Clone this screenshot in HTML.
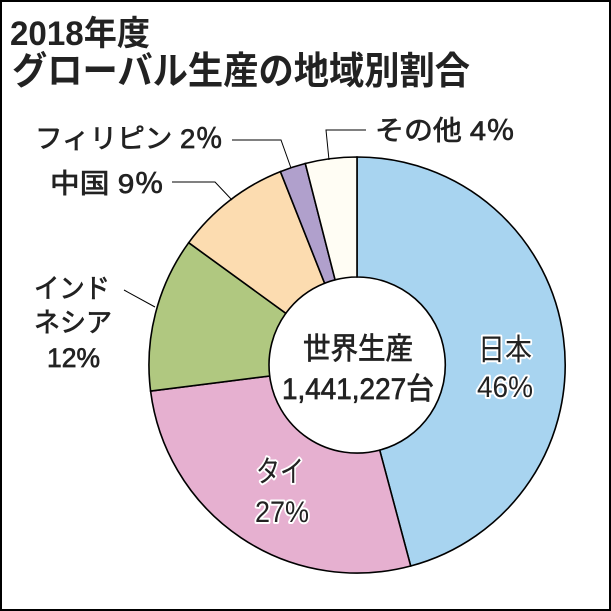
<!DOCTYPE html>
<html><head><meta charset="utf-8"><style>
html,body{margin:0;padding:0;background:#fff;}
svg{display:block;}
text{font-family:"Liberation Sans","Noto Sans CJK JP",sans-serif;}
</style></head><body>
<svg width="611" height="611" viewBox="0 0 611 611" xmlns="http://www.w3.org/2000/svg">
<rect x="1" y="1" width="609" height="609" fill="#fff" stroke="#000" stroke-width="2"/>
<text x="10" y="45" font-size="34" font-weight="bold" fill="#222" textLength="140" lengthAdjust="spacingAndGlyphs">2018年度</text>
<text x="12" y="84" font-size="38" font-weight="bold" fill="#222" textLength="458" lengthAdjust="spacingAndGlyphs">グローバル生産の地域別割合</text>
<g stroke="#000" stroke-width="1.6">
<path d="M357,157 A208,208 0 0 1 410.7,566.0 L379.7,450.1 A88,88 0 0 0 357,277 Z" fill="#a8d4f0"/>
<path d="M410.7,566.0 A208,208 0 0 1 150.6,391.1 L269.7,376.0 A88,88 0 0 0 379.7,450.1 Z" fill="#e6b0d0"/>
<path d="M150.6,391.1 A208,208 0 0 1 188.7,242.7 L285.8,313.3 A88,88 0 0 0 269.7,376.0 Z" fill="#b0c880"/>
<path d="M188.7,242.7 A208,208 0 0 1 280.4,171.6 L324.6,283.2 A88,88 0 0 0 285.8,313.3 Z" fill="#fcdcb0"/>
<path d="M280.4,171.6 A208,208 0 0 1 305.3,163.5 L335.1,279.8 A88,88 0 0 0 324.6,283.2 Z" fill="#b0a0cc"/>
<path d="M305.3,163.5 A208,208 0 0 1 357,157 L357,277 A88,88 0 0 0 335.1,279.8 Z" fill="#fffdf4"/>
</g>
<g stroke="#000" stroke-width="1" fill="none">
<polyline points="232,140 281,140 291,168"/>
<polyline points="366,130 326,130 329,160"/>
<polyline points="172,182 215,182 232,200"/>
<polyline points="124,290 155,307"/>
</g>
<g font-size="27" fill="#222" stroke="#222" stroke-width="0.7">
<text x="35" y="148" textLength="188" lengthAdjust="spacingAndGlyphs">フィリピン 2％</text>
<text x="50" y="193" textLength="114" lengthAdjust="spacingAndGlyphs">中国 9％</text>
<text x="375" y="140" textLength="140" lengthAdjust="spacingAndGlyphs">その他 4％</text>
<text x="34" y="298" textLength="76" lengthAdjust="spacingAndGlyphs">インド</text>
<text x="34" y="332" textLength="78" lengthAdjust="spacingAndGlyphs">ネシア</text>
<text x="47" y="367" textLength="53" lengthAdjust="spacingAndGlyphs">12%</text>
<text x="303" y="359" font-size="30" textLength="110" lengthAdjust="spacingAndGlyphs">世界生産</text>
<text x="282" y="399" font-size="30" textLength="152" lengthAdjust="spacingAndGlyphs">1,441,227台</text>
</g>
<g font-size="30" fill="#222" stroke="#fff" stroke-width="4" paint-order="stroke" stroke-linejoin="round">
<text x="478" y="360" textLength="54" lengthAdjust="spacingAndGlyphs">日本</text>
<text x="477" y="397" textLength="56" lengthAdjust="spacingAndGlyphs">46%</text>
<text x="256" y="482" textLength="48" lengthAdjust="spacingAndGlyphs">タイ</text>
<text x="255" y="522" textLength="54" lengthAdjust="spacingAndGlyphs">27%</text>
</g>
</svg>
</body></html>
